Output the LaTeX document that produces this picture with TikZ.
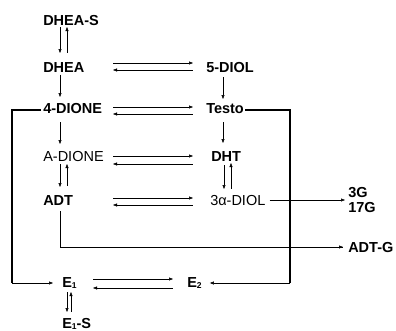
\documentclass[tikz,border=0pt]{standalone}
\usepackage{fontspec}
\setmainfont{Liberation Sans}
\usetikzlibrary{positioning,arrows.meta,calc}

\newcommand{\lowidx}[1]{\raisebox{-1.5pt}{\fontsize{8.5}{9}\selectfont #1}}

\begin{document}
\begin{tikzpicture}[
  x=1pt, y=-1pt,
  >={Triangle[length=4pt,width=3pt]},
  every path/.style={line width=0.5pt},
  met/.style={anchor=base west, inner sep=0pt, font=\fontsize{14.5}{17}\selectfont\bfseries},
  metr/.style={met, font=\fontsize{14.5}{17}\selectfont},
  bracket/.style={line width=1.8pt},
  glu/.style={line width=0.8pt}
]
\useasboundingbox (0,0) rectangle (396,330);

% ---------- nodes ----------
\node[met]  (DHEAS)  at (43,25)    {DHEA-S};
\node[met]  (DHEA)   at (43,72.5)  {DHEA};
\node[met]  (DIOL5)  at (206,72.5) {5-DIOL};
\node[met]  (DIONE4) at (43,113)   {4-DIONE};
\node[met]  (Testo)  at (206,113)  {Testo};
\node[metr] (ADIONE) at (43,161)   {A-DIONE};
\node[met]  (DHT)    at (211,161)  {DHT};
\node[met]  (ADT)    at (43,205)   {ADT};
\node[metr] (DIOL3a) at (210,205)  {3α-DIOL};
\node[met]  (E1)     at (62,287)   {E\lowidx{1}};
\node[met]  (E2)     at (187,287)  {E\lowidx{2}};
\node[met]  (E1S)    at (62,328)   {E\lowidx{1}-S};
\node[met, anchor=west, align=left, font=\fontsize{14.5}{15}\selectfont\bfseries] (G) at (348,200.3) {3G\\17G};
\node[met]  (ADTG)   at (348,252)  {ADT-G};

\coordinate (lb) at (12,283);
\coordinate (rb) at (290,283);

% ---------- vertical arrows ----------
\draw[->] ($(DHEAS.base west)+(17,2)$) -- ($(DHEA.base west)+(17,-19.5)$);
\draw[<-] ($(DHEAS.base west)+(24,2)$) -- ($(DHEA.base west)+(24,-19.5)$);
\draw[->] ($(DHEA.base west)+(17,2)$) -- ($(DIONE4.base west)+(17,-16)$);
\draw[->] ($(DIONE4.base west)+(17,9)$) -- ($(ADIONE.base west)+(17,-17)$);
\draw[->] ($(ADIONE.base west)+(17,3)$) -- ($(ADT.base west)+(17,-18)$);
\draw[<-] ($(ADIONE.base west)+(24,3)$) -- ($(ADT.base west)+(24,-19)$);
\draw[->] ($(DIOL5.base west)+(17,4.5)$) -- ($(Testo.base west)+(17,-14)$);
\draw[->] ($(Testo.base west)+(17,9)$) -- ($(DHT.base west)+(12,-18)$);
\draw[->] ($(DHT.base west)+(13,4)$) -- ($(DIOL3a.base west)+(14,-16)$);
\draw[<-] ($(DHT.base west)+(20,2)$) -- ($(DIOL3a.base west)+(21,-16)$);
\draw[->] ($(E1.base west)+(5,5)$) -- ($(E1S.base west)+(5,-16)$);
\draw[<-] ($(E1.base west)+(9,5)$) -- ($(E1S.base west)+(9,-16)$);

% ---------- horizontal pairs ----------
\draw[->] ($(DHEA.base west)+(70,-9.5)$) -- ($(DIOL5.base west)+(-13,-9.5)$);
\draw[<-] ($(DHEA.base west)+(70,-2.5)$) -- ($(DIOL5.base west)+(-13,-2.5)$);
\draw[->] ($(DIONE4.base west)+(70,-6)$) -- ($(Testo.base west)+(-13,-6)$);
\draw[<-] ($(DIONE4.base west)+(70,1)$) -- ($(Testo.base west)+(-13,1)$);
\draw[->] ($(ADIONE.base west)+(70,-5)$) -- ($(DHT.base west)+(-18,-5)$);
\draw[<-] ($(ADIONE.base west)+(70,3)$) -- ($(DHT.base west)+(-18,3)$);
\draw[->] ($(ADT.base west)+(70,-7)$) -- ($(DIOL3a.base west)+(-17,-7)$);
\draw[<-] ($(ADT.base west)+(70,0)$) -- ($(DIOL3a.base west)+(-17,0)$);
\draw[->] ($(E1.base west)+(31,-8)$) -- ($(E2.base west)+(-14,-8)$);
\draw[<-] ($(E1.base west)+(31,1)$) -- ($(E2.base west)+(-14,1)$);

% ---------- conjugates ----------
\draw[->, shorten >=3pt] ($(DIOL3a.east)+(4,0)$) -- (G.west |- DIOL3a.east);
\draw[glu] ($(ADT.base west)+(17,6)$) |- coordinate (adtc) ($(ADTG.west)+(-5,0)$);
\draw[->, shorten >=5pt] (adtc) -- (ADTG.west);

% ---------- aromatase brackets ----------
\draw[bracket] ($(DIONE4.west)+(-2,2)$) -| (lb);
\draw[->] (lb) -- ($(E1.base west)+(-9,-4)$);
\draw[bracket] ($(Testo.east)+(1,2)$) -| (rb);
\draw[->] (rb) -- ($(E2.base east)+(8,-4)$);
\end{tikzpicture}
\end{document}
